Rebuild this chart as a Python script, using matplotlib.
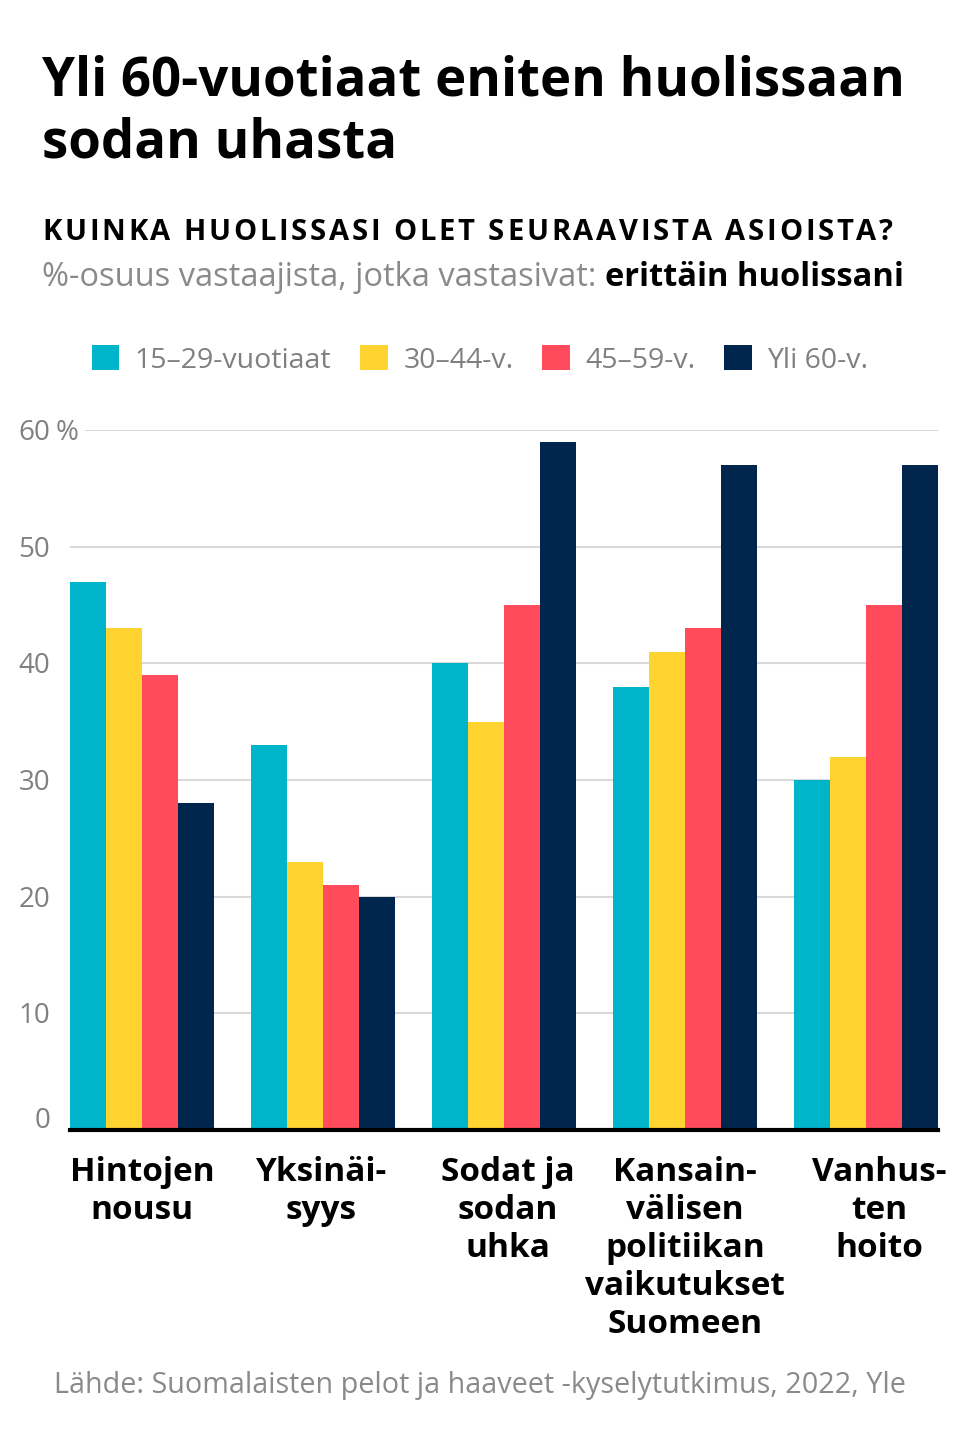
import matplotlib.pyplot as plt
import numpy as np
from matplotlib.patches import Patch

plt.rcParams['font.family'] = ['Open Sans', 'DejaVu Sans']

# Data
categories = ['Hintojen\nnousu', 'Yksinäi-\nsyys', 'Sodat ja\nsodan\nuhka',
              'Kansain-\nvälisen\npolitiikan\nvaikutukset\nSuomeen', 'Vanhus-\nten\nhoito']
series = ['15–29-vuotiaat', '30–44-v.', '45–59-v.', 'Yli 60-v.']
values = {
    '15–29-vuotiaat': [47, 33, 40, 38, 30],
    '30–44-v.': [43, 23, 35, 41, 32],
    '45–59-v.': [39, 21, 45, 43, 45],
    'Yli 60-v.': [28, 20, 59, 57, 57],
}
colors = ['#00B5C9', '#FFD431', '#FF4B5C', '#00264D']
yticks = [0, 10, 20, 30, 40, 50, 60]

W, H = 959, 1440
fig = plt.figure(figsize=(W / 100, H / 100), dpi=100)

# axes placement in pixels
ax_l, ax_r, ax_t, ax_b = 70, 938, 430, 1130
ax = fig.add_axes([ax_l / W, 1 - ax_b / H, (ax_r - ax_l) / W, (ax_b - ax_t) / H])

bw = 36 / 181
x = np.arange(len(categories))
for j, (name, col) in enumerate(zip(series, colors)):
    ax.bar(x + (j - 1.5) * bw, values[name], width=bw, color=col, zorder=2)

ax.set_xlim(-2 * bw, len(categories) - 1 + 2 * bw)
ax.set_ylim(0, 60)
for s in ['top', 'right', 'left']:
    ax.spines[s].set_visible(False)
ax.spines['bottom'].set_linewidth(3)
ax.spines['bottom'].set_color('black')
ax.spines['bottom'].set_zorder(3)
ax.set_yticks([])
ax.set_xticks([])

# gridlines (top one starts after the "%" label)
gx0 = (86 - ax_l) / (ax_r - ax_l)
for v in yticks[1:]:
    ax.axhline(v, xmin=gx0 if v == 60 else 0, xmax=1, color='#d9d9d9', lw=1.5, zorder=1)

# y labels
ylab_color = '#808080'
for v in yticks:
    yc = v - 0.25 if v > 0 else 0.8
    ax.text((50 - ax_l) / (ax_r - ax_l), yc, str(v), transform=ax.get_yaxis_transform(),
            ha='right', va='center', fontsize=20, color=ylab_color)
ax.text((56 - ax_l) / (ax_r - ax_l), 59.75, '%', transform=ax.get_yaxis_transform(),
        ha='left', va='center', fontsize=20, color=ylab_color)

# category labels (small nudges as in the original layout)
px = (ax_r - ax_l) / (ax.get_xlim()[1] - ax.get_xlim()[0])
nudge = [0, -2, 4, 0, 13]
for xi, lab, dx in zip(x, categories, nudge):
    ax.text(xi + dx / px, -2.25, lab, ha='center', va='top', fontsize=24, fontweight='bold',
            color='black', linespacing=1.2)

# titles
fig.text(42 / W, 1 - 81 / H, 'Yli 60-vuotiaat eniten huolissaan', fontsize=38,
         fontweight='bold', ha='left', va='center')
fig.text(42 / W, 1 - 144 / H, 'sodan uhasta', fontsize=38,
         fontweight='bold', ha='left', va='center')

# letter-spaced subtitle
sub = 'KUINKA HUOLISSASI OLET SEURAAVISTA ASIOISTA?'
fig.canvas.draw()
r = fig.canvas.get_renderer()
xpos = 42
spacing = 2.8
for ch in sub:
    t = fig.text(xpos / W, 1 - 232 / H, ch, fontsize=21, fontweight='bold',
                 ha='left', va='center')
    bb = t.get_window_extent(renderer=r)
    if ch == ' ':
        w = 21 * 100 / 72 * 0.26
    else:
        w = bb.width
    xpos += w + spacing

t1 = fig.text(42 / W, 1 - 278 / H, '%-osuus vastaajista, jotka vastasivat: ', fontsize=23.5,
              color='#8a8a8a', ha='left', va='center')
bb = t1.get_window_extent(renderer=r)
fig.text(bb.x1 / W, 1 - 278 / H, 'erittäin huolissani', fontsize=23.5,
         fontweight='bold', color='black', ha='left', va='center')

# legend
handles = [Patch(facecolor=c, edgecolor='none') for c in colors]
leg = fig.legend(handles, series, loc='center', bbox_to_anchor=(480 / W, 1 - 360 / H),
                 ncol=4, frameon=False, fontsize=20.5, handlelength=0.97, handleheight=0.97,
                 handletextpad=0.55, columnspacing=1.0)
for t in leg.get_texts():
    t.set_color('#808080')

# source
fig.text(480 / W, 1 - 1386 / H, 'Lähde: Suomalaisten pelot ja haaveet -kyselytutkimus, 2022, Yle',
         fontsize=20.7, color='#8a8a8a', ha='center', va='center')

fig.savefig('out.png', dpi=100, facecolor='white')
